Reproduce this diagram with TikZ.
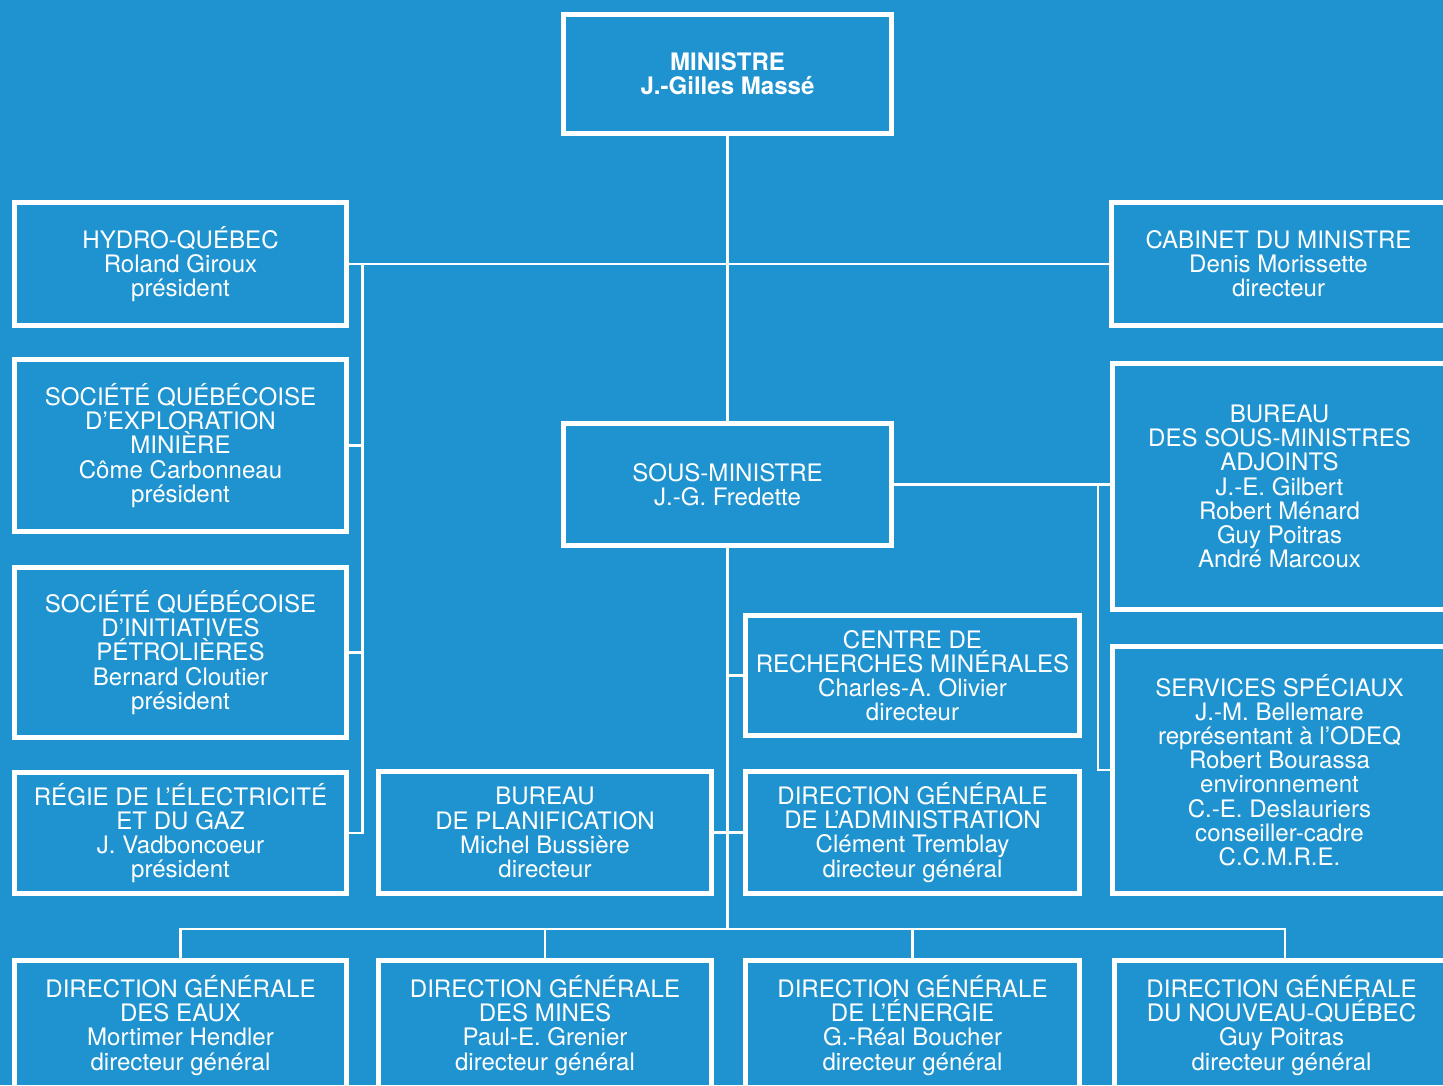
\documentclass[tikz,border=0pt]{standalone}
\usepackage{fontspec}
\setmainfont{TeX Gyre Heros}
\definecolor{chart-blue}{HTML}{1F93CF}

\begin{document}
\begin{tikzpicture}[x=0.02cm, y=-0.02cm,
    unitbox/.style={draw=white, line width=2.8pt, text=white, align=center,
      inner sep=0pt, font={\fontsize{13.7}{13.75}\selectfont\lineskiplimit=-20pt}},
    link/.style={draw=white, line width=1.5pt}]
  \path[use as bounding box, fill=chart-blue] (0,0) rectangle (1443,1085);
  \clip (0,0) rectangle (1443,1085);

  % top and the deputy minister
  \node[unitbox, minimum width=6.56cm, minimum height=2.38cm]
    (MIN) at (727.5,74) {\textbf{MINISTRE}\\\textbf{J.-Gilles Massé}};
  \node[unitbox, minimum width=6.56cm, minimum height=2.44cm]
    (SM) at (727.5,484.5) {SOUS-MINISTRE\\J.-G. Fredette};

  % left column
  \node[unitbox, minimum width=6.64cm, minimum height=2.46cm]
    (HQ) at (180.5,264) {HYDRO-QUÉBEC\\Roland Giroux\\président};
  \node[unitbox, minimum width=6.64cm, minimum height=3.44cm]
    (SQEM) at (180.5,445.5) {SOCIÉTÉ QUÉBÉCOISE\\D’EXPLORATION\\MINIÈRE\\Côme Carbonneau\\président};
  \node[unitbox, minimum width=6.64cm, minimum height=3.40cm]
    (SQIP) at (180.5,652.5) {SOCIÉTÉ QUÉBÉCOISE\\D’INITIATIVES\\PÉTROLIÈRES\\Bernard Cloutier\\président};
  \node[unitbox, minimum width=6.64cm, minimum height=2.42cm]
    (REGIE) at (180.5,833) {RÉGIE DE L’ÉLECTRICITÉ\\ET DU GAZ\\J. Vadboncoeur\\président};

  % right column (runs off the page edge)
  \node[unitbox, minimum width=6.68cm, minimum height=2.46cm]
    (CAB) at (1278.5,264) {CABINET DU MINISTRE\\Denis Morissette\\directeur};
  \node[unitbox, minimum width=6.68cm, minimum height=4.92cm]
    (BSMA) at (1279.5,486.5) {BUREAU\\DES SOUS-MINISTRES\\ADJOINTS\\J.-E. Gilbert\\Robert Ménard\\Guy Poitras\\André Marcoux};
  \node[unitbox, minimum width=6.68cm, minimum height=4.94cm]
    (SERV) at (1279.5,770) {SERVICES SPÉCIAUX\\J.-M. Bellemare\\représentant à l’ODEQ\\Robert Bourassa\\environnement\\C.-E. Deslauriers\\conseiller-cadre\\C.C.M.R.E.};

  % middle units
  \node[unitbox, minimum width=6.68cm, minimum height=2.40cm]
    (CRM) at (912.5,675.5) {CENTRE DE\\RECHERCHES MINÉRALES\\Charles-A. Olivier\\directeur};
  \node[unitbox, minimum width=6.66cm, minimum height=2.44cm]
    (BP) at (545,832.5) {BUREAU\\DE PLANIFICATION\\Michel Bussière\\directeur};
  \node[unitbox, minimum width=6.68cm, minimum height=2.44cm]
    (DGA) at (912.5,832.5) {DIRECTION GÉNÉRALE\\DE L’ADMINISTRATION\\Clément Tremblay\\directeur général};

  % bottom row (runs off the page edge)
  \node[unitbox, minimum width=6.64cm, minimum height=2.60cm]
    (DGE) at (180.5,1025.5) {DIRECTION GÉNÉRALE\\DES EAUX\\Mortimer Hendler\\directeur général};
  \node[unitbox, minimum width=6.66cm, minimum height=2.60cm]
    (DGM) at (545,1025.5) {DIRECTION GÉNÉRALE\\DES MINES\\Paul-E. Grenier\\directeur général};
  \node[unitbox, minimum width=6.68cm, minimum height=2.60cm]
    (DGEN) at (912.5,1025.5) {DIRECTION GÉNÉRALE\\DE L’ÉNERGIE\\G.-Réal Boucher\\directeur général};
  \node[unitbox, minimum width=6.68cm, minimum height=2.60cm]
    (DGNQ) at (1281.5,1025.5) {DIRECTION GÉNÉRALE\\DU NOUVEAU-QUÉBEC\\Guy Poitras\\directeur général};

  % bus lines
  \coordinate (lbus) at (362.5,264);
  \coordinate (rbus) at (1098,0);
  \coordinate (bbus) at (727.5,929);
  \coordinate (bbusR) at (1285,929);

  \draw[link] (MIN.south) -- (SM.north);
  \draw[link] (HQ.east) -- (CAB.west);
  \draw[link] (lbus) |- (REGIE.east);
  \draw[link] (SQEM.east) -- (SQEM.east -| lbus);
  \draw[link] (SQIP.east) -- (SQIP.east -| lbus);
  \draw[link] (SM.east) -- (SM.east -| BSMA.west);
  \draw[link] (SM.east -| rbus) |- (SERV.west);
  \draw[link] (SM.south) -- (bbus);
  \draw[link] (CRM.west) -- (CRM.west -| SM.south);
  \draw[link] (BP.east) -- (DGA.west);
  \draw[link] (DGE.north) |- (bbusR) -- (bbusR |- DGNQ.north);
  \draw[link] (DGM.north) -- (DGM.north |- bbus);
  \draw[link] (DGEN.north) -- (DGEN.north |- bbus);
\end{tikzpicture}
\end{document}
